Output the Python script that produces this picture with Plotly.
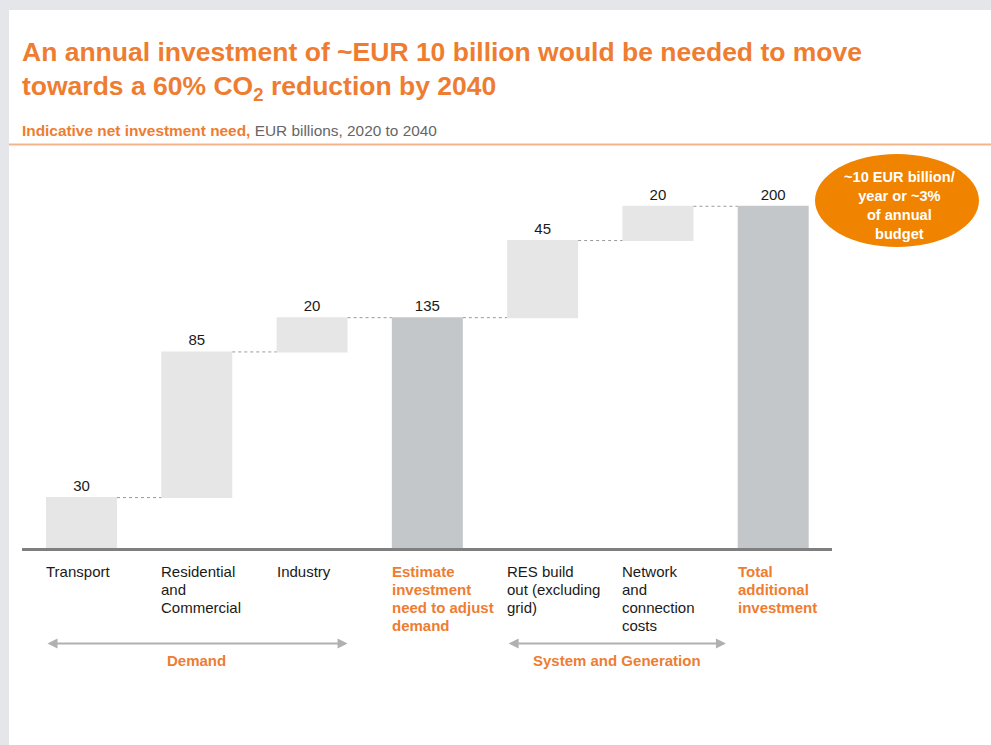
import plotly.graph_objects as go

# --- data ---------------------------------------------------------------
categories = [
    "Transport",
    "Residential and Commercial",
    "Industry",
    "Estimate investment need to adjust demand",
    "RES build out (excluding grid)",
    "Network and connection costs",
    "Total additional investment",
]
tick_labels = [
    "Transport",
    "Residential<br>and<br>Commercial",
    "Industry",
    "Estimate<br>investment<br>need to adjust<br>demand",
    "RES build<br>out (excluding<br>grid)",
    "Network<br>and<br>connection<br>costs",
    "Total<br>additional<br>investment",
]
measures = ["relative", "relative", "relative", "total", "relative", "relative", "total"]
values = [30, 85, 20, 135, 45, 20, 200]

groups = ["Demand", "System and Generation"]
group_spans = [(-0.308, 2.308), (3.692, 5.59)]

# --- geometry (pixels) ---------------------------------------------------
W, H = 991, 745
L, R, T, B = 22, 832, 172, 549
ORANGE = "#ee7d31"
FONT = "Arial, Liberation Sans, sans-serif"


def py(y):
    """pixel row -> paper y"""
    return (B - y) / (B - T)


def px(x):
    """pixel column -> paper x"""
    return (x - L) / (R - L)


# running totals used for the labels on the total bars
labels = []
run = 0
for m, v in zip(measures, values):
    if m == "relative":
        run += v
        labels.append(str(v))
    else:
        labels.append(str(run))

fig = go.Figure(
    go.Waterfall(
        x=list(range(len(categories))),
        y=values,
        measure=measures,
        text=labels,
        textposition="outside",
        textfont=dict(size=15, color="#1a1a1a", family=FONT),
        width=0.616,
        increasing=dict(marker=dict(color="#e6e6e6", line=dict(width=0))),
        totals=dict(marker=dict(color="#c4c7c9", line=dict(width=0))),
        connector=dict(mode="between", line=dict(color="#9a9a9a", width=1, dash="dot")),
        cliponaxis=False,
        hovertext=categories,
        showlegend=False,
    )
)

shapes = [
    # white page on grey frame
    dict(type="rect", xref="paper", yref="paper", x0=px(9), x1=px(W + 20),
         y0=py(H + 20), y1=py(10), fillcolor="white", line=dict(width=0), layer="below"),
    # orange rule under the subtitle
    dict(type="line", xref="paper", yref="paper", x0=px(9), x1=px(W + 20),
         y0=py(144.5), y1=py(144.5), line=dict(color="#f5b58b", width=2)),
    # baseline
    dict(type="line", xref="paper", yref="paper", x0=0, x1=1, y0=py(549.5), y1=py(549.5),
         line=dict(color="#7f7f7f", width=3)),
    # callout ellipse
    dict(type="circle", xref="paper", yref="paper", x0=px(815), x1=px(979),
         y0=py(247), y1=py(154), fillcolor="#f08300", line=dict(width=0)),
]

annotations = [
    dict(xref="paper", yref="paper", x=0, xshift=-2, y=py(71), xanchor="left",
         yanchor="middle", align="left", showarrow=False,
         text="<b>An annual investment of ~EUR 10 billion would be needed to move<br>"
              "towards a 60% CO<sub>2</sub> reduction by 2040</b>",
         font=dict(size=26.5, color=ORANGE, family=FONT)),
    dict(xref="paper", yref="paper", x=0, xshift=-2, y=py(130), xanchor="left",
         yanchor="middle", showarrow=False,
         text=f"<b><span style='color:{ORANGE}'>Indicative net investment need,</span></b> "
              "EUR billions, 2020 to 2040",
         font=dict(size=15.4, color="#666666", family=FONT)),
    dict(xref="paper", yref="paper", x=px(899), y=py(205.5), xanchor="center",
         yanchor="middle", showarrow=False, align="center",
         text="<b>~10 EUR billion/<br>year or ~3%<br>of annual<br>budget</b>",
         font=dict(size=14.6, color="white", family=FONT)),
]

# category labels, one annotation per line, left aligned at the bar edge
for i, lab in enumerate(tick_labels):
    is_total = measures[i] == "total"
    for j, line in enumerate(lab.split("<br>")):
        annotations.append(dict(
            xref="x", yref="paper", x=i - 0.308, xshift=-2, y=py(571 + 18.3 * j),
            xanchor="left", yanchor="middle", showarrow=False,
            text=f"<b>{line}</b>" if is_total else line,
            font=dict(size=15, color=ORANGE if is_total else "#1a1a1a", family=FONT)))

# group arrows and their captions
for name, (a, b) in zip(groups, group_spans):
    annotations.append(dict(
        xref="x", yref="paper", x=b, y=py(643.5), axref="x", ayref="pixel", ax=a, ay=0,
        text="", showarrow=True, arrowside="end+start", arrowhead=2, arrowsize=1,
        arrowwidth=2, arrowcolor="#b0b0b0", standoff=0, startstandoff=0))
    annotations.append(dict(
        xref="x", yref="paper", x=(a + b) / 2, y=py(660), xanchor="center",
        yanchor="middle", showarrow=False, text=f"<b>{name}</b>",
        font=dict(size=15, color=ORANGE, family=FONT)))

fig.update_layout(
    width=W, height=H,
    margin=dict(l=L, r=W - R, t=T, b=H - B, pad=0),
    paper_bgcolor="#e4e6e9",
    plot_bgcolor="rgba(0,0,0,0)",
    xaxis=dict(range=[-0.516, 6.51], showticklabels=False, showgrid=False,
               zeroline=False, showline=False, ticks=""),
    yaxis=dict(range=[0, 220], visible=False, showgrid=False, zeroline=False),
    shapes=shapes,
    annotations=annotations,
    font=dict(family=FONT),
)

fig.write_html("out.html")
